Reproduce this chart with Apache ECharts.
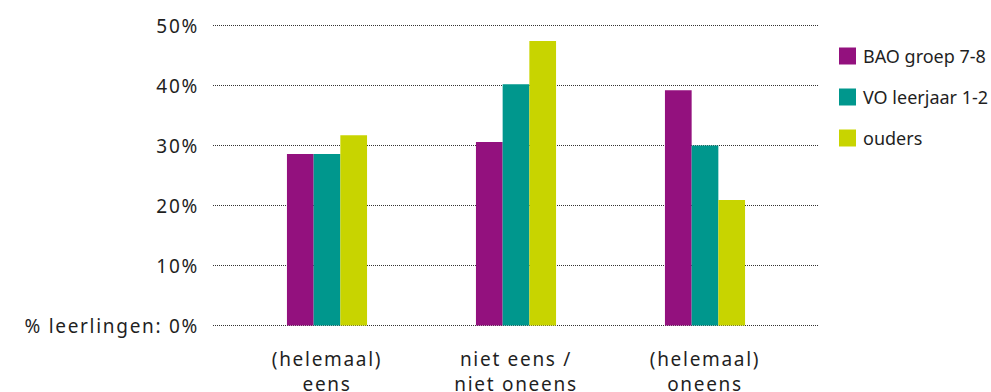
<!DOCTYPE html>
<html>
<head>
<meta charset="utf-8">
<script src="https://cdn.jsdelivr.net/npm/echarts@6/dist/echarts.min.js"></script>
<style>
  html, body { margin: 0; padding: 0; background: #ffffff; }
  #chart { width: 991px; height: 392px; }
  /* axis labels (19px) are set slightly spaced out */
  #chart text[style*="19px"] { letter-spacing: 1.7px; }
</style>
</head>
<body>
<div id="chart"></div>
<script>
// Answer categories (x axis)
const categories = ['(helemaal)\neens', 'niet eens /\nniet oneens', '(helemaal)\noneens'];

// Series names and values (percent)
const seriesNames = ['BAO groep 7-8', 'VO leerjaar 1-2', 'ouders'];
const baoValues = [28.6, 30.6, 39.2];
const voValues = [28.6, 40.2, 30.0];
const oudersValues = [31.7, 47.4, 20.9];

// Y axis tick labels, from 0 up to 50 in steps of 10
const yTickLabels = ['% leerlingen: 0%', '10%', '20%', '30%', '40%', '50%'];

const colors = ['#93117e', '#00978d', '#c8d400'];
const fontFamily = '"Noto Sans", sans-serif';
const textColor = '#1f1f1f';

const chart = echarts.init(document.getElementById('chart'), null, { renderer: 'svg' });

const seriesValues = [baoValues, voValues, oudersValues];

chart.setOption({
  animation: false,
  color: colors,
  textStyle: { fontFamily: fontFamily, color: textColor },
  legend: {
    orient: 'vertical',
    left: 834,
    top: 42,
    itemWidth: 17,
    itemHeight: 17,
    itemGap: 23,
    icon: 'rect',
    data: seriesNames,
    textStyle: { fontFamily: fontFamily, fontSize: 18, lineHeight: 17, color: textColor, padding: [0, 0, 0, 2] }
  },
  grid: [
    // plotting area for the bars
    { left: 232.5, right: 191.5, top: 25.5, bottom: 66.5, containLabel: false, outerBoundsMode: 'none' },
    // wider area carrying the dotted gridlines and y labels
    { left: 213, right: 173, top: 25.5, bottom: 66.5, containLabel: false, outerBoundsMode: 'none' }
  ],
  xAxis: [
    {
      type: 'category',
      gridIndex: 0,
      data: categories,
      axisLine: { show: false },
      axisTick: { show: false },
      axisLabel: {
        margin: 21,
        fontSize: 19,
        lineHeight: 25,
        color: textColor,
        fontFamily: fontFamily
      }
    },
    {
      type: 'category',
      gridIndex: 1,
      data: categories,
      show: false
    }
  ],
  yAxis: [
    {
      type: 'value',
      gridIndex: 0,
      min: 0,
      max: 50,
      interval: 10,
      show: false,
      splitLine: { show: false }
    },
    {
      type: 'value',
      gridIndex: 1,
      min: 0,
      max: 50,
      interval: 10,
      axisLine: { show: false },
      axisTick: { show: false },
      splitLine: { show: true, lineStyle: { type: 'dotted', color: '#333333', width: 1 } },
      axisLabel: {
        margin: 14,
        fontSize: 19,
        color: textColor,
        fontFamily: fontFamily,
        formatter: function (v) { return yTickLabels[Math.round(v / 10)]; }
      }
    }
  ],
  series: seriesNames.map(function (name, i) {
    return {
      name: name,
      type: 'bar',
      xAxisIndex: 0,
      yAxisIndex: 0,
      data: seriesValues[i],
      barWidth: 26.7,
      barGap: '0%',
      z: 3
    };
  })
});
</script>
</body>
</html>
